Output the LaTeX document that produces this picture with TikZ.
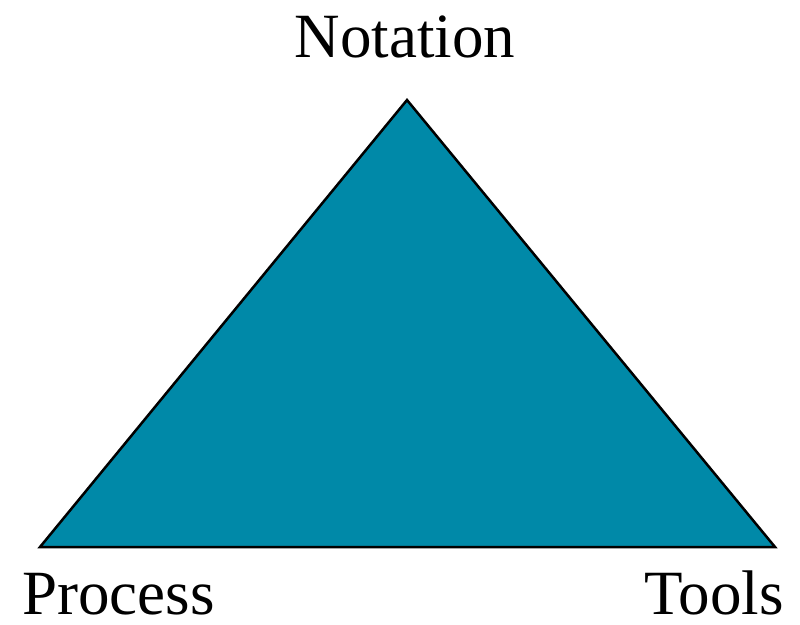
\documentclass[tikz,border=0pt]{standalone}
\usepackage{fontspec}
\setmainfont{Liberation Serif}
\definecolor{tri}{HTML}{0089A8}
\begin{document}
\begin{tikzpicture}[x=1pt,y=-1pt,
  lbl/.style={inner sep=0pt,text depth=0pt,font=\fontsize{63}{70}\selectfont}]
\useasboundingbox (0,0) rectangle (800,624);
\coordinate (T) at (407,100);
\coordinate (L) at (40,547);
\coordinate (R) at (775,547);
\filldraw[fill=tri,draw=black,line width=2.5pt,line join=miter] (T) -- (L) -- (R) -- cycle;
\node[lbl,anchor=base] (n) at (405,57) {Notation};
\node[lbl,anchor=base west] (p) at (22,614) {Process};
\node[lbl,anchor=base east] (t) at (784,614) {Tools};
\end{tikzpicture}
\end{document}
